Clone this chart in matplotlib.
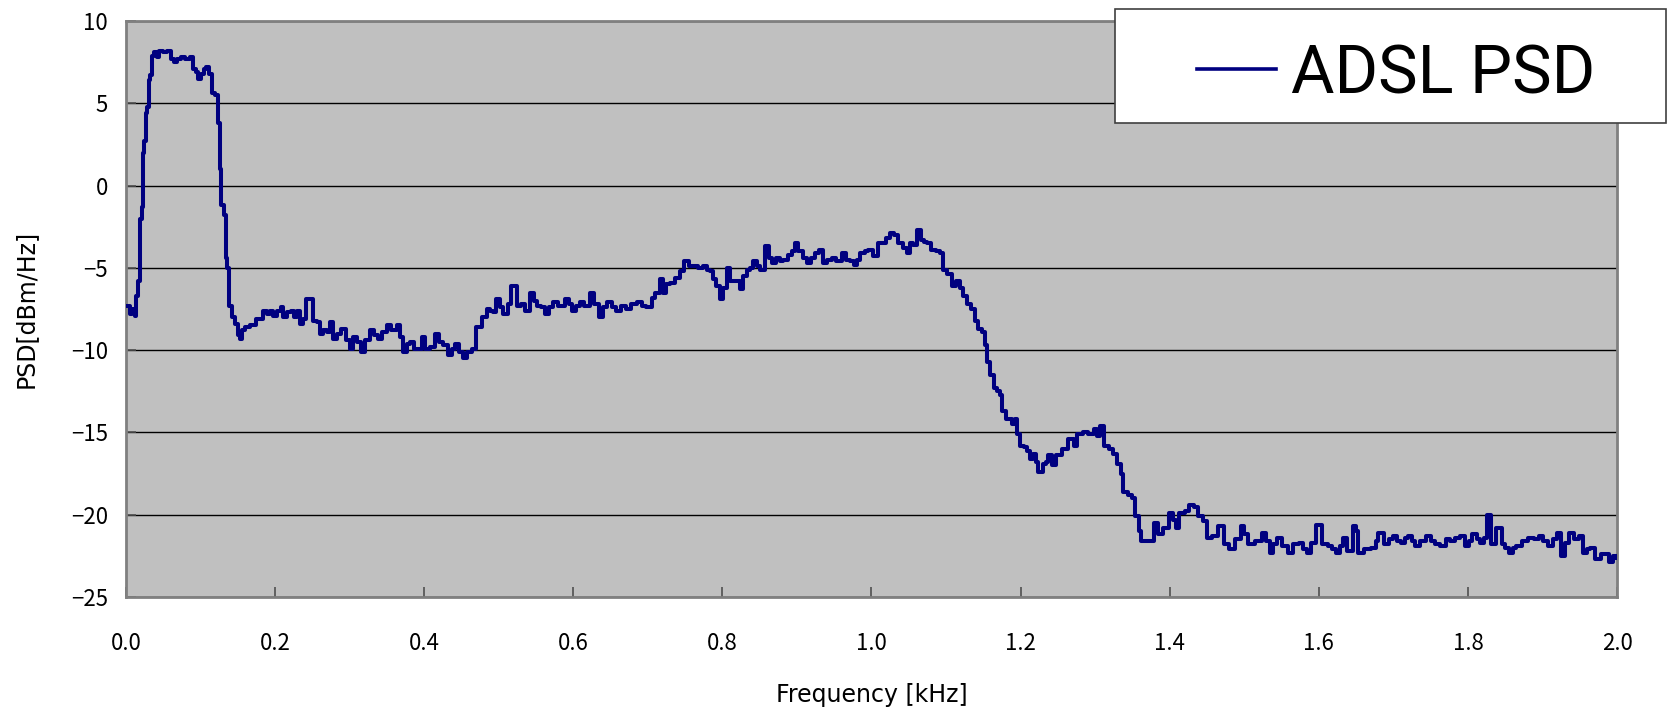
import matplotlib
matplotlib.use("Agg")
import matplotlib.pyplot as plt
from matplotlib.patches import Rectangle
from matplotlib.lines import Line2D

plt.rcParams['font.family'] = ['Noto Sans CJK JP', 'DejaVu Sans']

# ADSL PSD (kHz, dBm/Hz)
freq = [
    0.000, 0.005, 0.008, 0.012, 0.014, 0.016, 0.019, 0.021, 0.023, 0.025,
    0.027, 0.029, 0.031, 0.033, 0.035, 0.038, 0.042, 0.045, 0.050, 0.055,
    0.060, 0.064, 0.068, 0.074, 0.080, 0.086, 0.090, 0.094, 0.097, 0.101,
    0.105, 0.108, 0.112, 0.116, 0.120, 0.124, 0.126, 0.128, 0.131, 0.134,
    0.136, 0.139, 0.142, 0.146, 0.150, 0.153, 0.156, 0.160, 0.166, 0.171,
    0.175, 0.180, 0.184, 0.189, 0.193, 0.198, 0.203, 0.208, 0.211, 0.216,
    0.222, 0.226, 0.229, 0.234, 0.238, 0.242, 0.247, 0.251, 0.256, 0.260,
    0.265, 0.270, 0.274, 0.278, 0.283, 0.289, 0.295, 0.300, 0.305, 0.310,
    0.316, 0.321, 0.327, 0.333, 0.338, 0.344, 0.350, 0.356, 0.363, 0.368,
    0.372, 0.377, 0.381, 0.386, 0.390, 0.397, 0.401, 0.408, 0.414, 0.420,
    0.426, 0.432, 0.437, 0.441, 0.447, 0.452, 0.458, 0.464, 0.470, 0.477,
    0.484, 0.488, 0.493, 0.497, 0.502, 0.506, 0.512, 0.517, 0.524, 0.530,
    0.535, 0.542, 0.547, 0.551, 0.557, 0.562, 0.568, 0.573, 0.580, 0.589,
    0.594, 0.598, 0.604, 0.609, 0.615, 0.622, 0.628, 0.634, 0.640, 0.645,
    0.652, 0.658, 0.664, 0.671, 0.678, 0.685, 0.692, 0.698, 0.705, 0.710,
    0.716, 0.720, 0.725, 0.730, 0.736, 0.743, 0.748, 0.755, 0.761, 0.768,
    0.774, 0.780, 0.783, 0.788, 0.792, 0.797, 0.801, 0.806, 0.810, 0.816,
    0.824, 0.828, 0.833, 0.837, 0.841, 0.846, 0.850, 0.857, 0.862, 0.866,
    0.872, 0.877, 0.882, 0.888, 0.893, 0.897, 0.902, 0.908, 0.913, 0.919,
    0.924, 0.929, 0.935, 0.941, 0.947, 0.953, 0.960, 0.966, 0.971, 0.976,
    0.981, 0.985, 0.991, 0.996, 1.002, 1.009, 1.014, 1.020, 1.025, 1.030,
    1.036, 1.042, 1.047, 1.052, 1.056, 1.061, 1.066, 1.070, 1.074, 1.080,
    1.086, 1.092, 1.096, 1.101, 1.108, 1.114, 1.119, 1.123, 1.128, 1.134,
    1.139, 1.143, 1.148, 1.152, 1.155, 1.159, 1.164, 1.168, 1.172, 1.175,
    1.181, 1.188, 1.193, 1.195, 1.199, 1.204, 1.208, 1.213, 1.217, 1.221,
    1.224, 1.230, 1.234, 1.237, 1.242, 1.248, 1.255, 1.260, 1.264, 1.271,
    1.275, 1.284, 1.291, 1.298, 1.302, 1.306, 1.312, 1.318, 1.324, 1.329,
    1.334, 1.338, 1.344, 1.349, 1.354, 1.359, 1.362, 1.374, 1.379, 1.384,
    1.391, 1.399, 1.404, 1.408, 1.413, 1.420, 1.426, 1.433, 1.438, 1.445,
    1.450, 1.457, 1.465, 1.473, 1.480, 1.487, 1.495, 1.500, 1.505, 1.514,
    1.524, 1.529, 1.534, 1.539, 1.544, 1.551, 1.559, 1.566, 1.574, 1.579,
    1.584, 1.590, 1.596, 1.604, 1.612, 1.618, 1.623, 1.628, 1.633, 1.638,
    1.646, 1.650, 1.653, 1.660, 1.670, 1.676, 1.680, 1.687, 1.694, 1.700,
    1.705, 1.710, 1.715, 1.720, 1.725, 1.729, 1.736, 1.744, 1.750, 1.756,
    1.762, 1.770, 1.776, 1.783, 1.789, 1.796, 1.801, 1.806, 1.812, 1.816,
    1.822, 1.826, 1.831, 1.838, 1.846, 1.850, 1.855, 1.860, 1.865, 1.872,
    1.880, 1.888, 1.895, 1.901, 1.907, 1.914, 1.920, 1.925, 1.930, 1.935,
    1.942, 1.949, 1.954, 1.960, 1.964, 1.971, 1.978, 1.984, 1.989, 1.995,
    2.000,
]
psd = [
    -7.3, -7.8, -7.5, -7.9, -6.7, -5.8, -2.0, -1.3, 2.0, 2.7,
    4.4, 4.8, 6.4, 6.7, 7.9, 8.1, 7.8, 8.2, 8.1, 8.2,
    7.7, 7.5, 7.7, 7.8, 7.7, 7.8, 7.1, 6.9, 6.5, 6.8,
    7.1, 7.2, 6.8, 5.6, 5.5, 3.8, 1.0, -1.2, -1.8, -4.4,
    -5.0, -7.3, -8.0, -8.4, -9.1, -9.3, -8.8, -8.6, -8.5, -8.5,
    -8.1, -8.1, -7.6, -7.8, -7.6, -7.9, -7.6, -7.4, -8.0, -7.7,
    -7.6, -8.0, -7.6, -8.4, -8.1, -6.9, -6.9, -8.2, -8.3, -9.0,
    -8.8, -8.9, -8.3, -9.3, -9.0, -8.7, -9.4, -9.9, -9.2, -9.5,
    -10.1, -9.4, -8.8, -9.1, -9.3, -8.9, -8.5, -8.8, -8.5, -9.2,
    -10.1, -9.6, -9.5, -9.9, -9.9, -9.2, -9.9, -9.8, -9.0, -9.5,
    -9.7, -10.3, -9.9, -9.6, -10.1, -10.5, -10.1, -9.9, -8.6, -8.0,
    -7.5, -7.6, -7.7, -6.9, -7.4, -7.8, -7.2, -6.1, -7.3, -7.2,
    -7.6, -6.5, -7.0, -7.3, -7.4, -7.8, -7.4, -7.1, -7.3, -6.9,
    -7.2, -7.6, -7.3, -7.1, -7.3, -6.5, -7.2, -8.0, -7.4, -7.1,
    -7.4, -7.6, -7.3, -7.5, -7.2, -7.1, -7.3, -7.4, -6.8, -6.5,
    -5.7, -6.5, -6.0, -5.9, -5.6, -5.2, -4.6, -4.9, -4.9, -5.0,
    -4.9, -5.1, -5.2, -5.7, -6.1, -6.9, -6.2, -5.0, -5.8, -5.8,
    -6.3, -5.5, -5.1, -5.0, -4.6, -4.9, -5.1, -3.7, -4.4, -4.7,
    -4.4, -4.6, -4.5, -4.2, -4.0, -3.5, -4.0, -4.4, -4.7, -4.4,
    -4.1, -3.9, -4.7, -4.5, -4.4, -4.6, -4.1, -4.5, -4.6, -4.8,
    -4.5, -4.1, -4.0, -3.9, -4.3, -3.5, -3.5, -3.2, -2.9, -3.0,
    -3.5, -3.8, -4.1, -3.5, -3.6, -2.7, -3.3, -3.4, -3.5, -3.9,
    -4.0, -4.1, -5.1, -5.4, -6.1, -5.8, -6.2, -6.7, -7.2, -7.5,
    -8.2, -8.7, -8.9, -9.7, -10.7, -11.5, -12.3, -12.5, -12.7, -13.7,
    -14.2, -14.5, -14.2, -15.1, -15.8, -15.9, -16.1, -16.6, -16.3, -16.8,
    -17.4, -16.9, -16.8, -16.4, -17.0, -16.4, -16.0, -16.0, -15.4, -15.8,
    -15.1, -15.0, -15.1, -14.8, -15.2, -14.6, -15.8, -16.0, -16.3, -16.9,
    -17.5, -18.6, -18.8, -19.0, -20.1, -21.0, -21.6, -21.6, -20.5, -21.2,
    -20.8, -19.9, -20.3, -20.8, -19.9, -19.8, -19.4, -19.5, -20.1, -20.4,
    -21.4, -21.3, -20.7, -21.8, -22.1, -21.5, -20.7, -21.2, -21.8, -21.6,
    -21.1, -21.6, -22.3, -21.8, -21.4, -21.9, -22.3, -21.8, -21.7, -22.1,
    -22.3, -21.7, -20.6, -21.8, -21.9, -22.1, -22.3, -21.9, -21.4, -22.2,
    -20.7, -21.0, -22.3, -22.1, -22.0, -21.6, -21.1, -21.8, -21.5, -21.3,
    -21.6, -21.7, -21.4, -21.3, -21.6, -21.9, -21.6, -21.3, -21.6, -21.8,
    -21.9, -21.5, -21.6, -21.4, -21.3, -21.9, -21.6, -21.2, -21.5, -21.7,
    -21.4, -20.0, -21.8, -20.8, -21.8, -22.0, -22.3, -22.0, -21.9, -21.6,
    -21.4, -21.5, -21.3, -21.6, -21.9, -21.5, -21.1, -22.5, -21.7, -21.1,
    -21.5, -21.3, -22.3, -22.1, -22.0, -22.7, -22.4, -22.4, -22.9, -22.5,
    -22.6,
]

x_ticks = [0.0, 0.2, 0.4, 0.6, 0.8, 1.0, 1.2, 1.4, 1.6, 1.8, 2.0]
y_ticks = [10, 5, 0, -5, -10, -15, -20, -25]
series_name = "ADSL PSD"

fig = plt.figure(figsize=(16.78, 7.15), dpi=100)
ax = fig.add_axes([0.075, 0.165, 0.8887, 0.8056])
ax.set_facecolor("#C0C0C0")

ax.plot(freq, psd, color="#000080", linewidth=2.9, drawstyle="steps-post",
        zorder=3)

ax.set_xlim(0, 2.0)
ax.set_ylim(-25, 10)
ax.set_xticks(x_ticks)
ax.set_xticklabels([f"{v:.1f}" for v in x_ticks])
ax.set_yticks(y_ticks)
ax.set_yticklabels([f"{v}".replace("-", "\u2212") for v in y_ticks])

ax.yaxis.grid(True, color="black", linewidth=1.0)
ax.set_axisbelow(True)

for side in ["left", "bottom", "top", "right"]:
    ax.spines[side].set_color("#808080")
    ax.spines[side].set_linewidth(2.0)

ax.tick_params(axis="both", direction="in", length=7, width=1.2,
               color="#505050", labelsize=16)
ax.tick_params(axis="x", pad=25)
ax.tick_params(axis="y", pad=13)

label_font = ["DejaVu Sans"]
ax.set_xlabel("Frequency [kHz]", fontsize=17, family=label_font, labelpad=20)
ax.set_ylabel("PSD[dBm/Hz]", fontsize=17, family=label_font, labelpad=24)

# legend box drawn in figure pixels
W, H = 1678.0, 715.0
fig.add_artist(Rectangle((1115 / W, 1 - 123 / H), 551 / W, 114 / H,
                         transform=fig.transFigure, facecolor="white",
                         edgecolor="#404040", linewidth=1.2, zorder=5))
fig.add_artist(Line2D([1197 / W, 1276 / W], [1 - 69 / H, 1 - 69 / H],
                      transform=fig.transFigure, color="#000080",
                      linewidth=2.6, zorder=6))
fig.text(1291 / W, 1 - 76 / H, series_name, fontsize=48,
         family=["Roboto", "DejaVu Sans"], va="center", ha="left", zorder=6)

fig.savefig("out.png", dpi=100)
